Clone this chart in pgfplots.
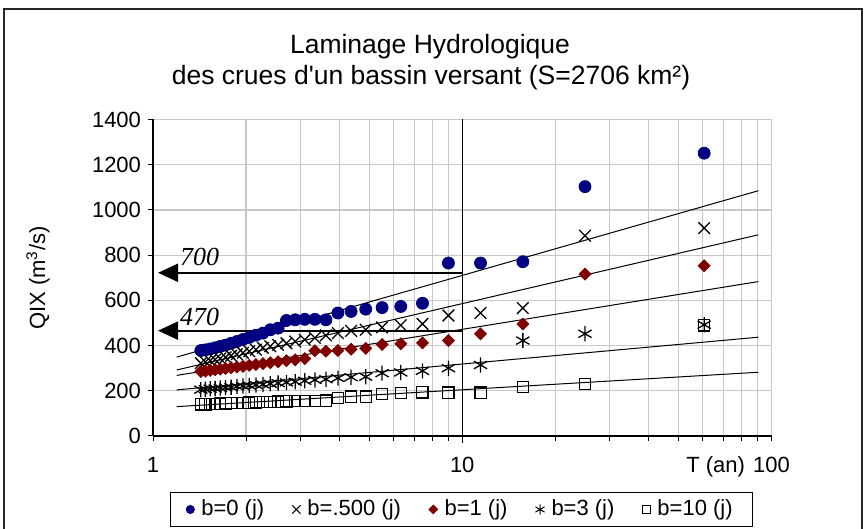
\documentclass[border=0pt]{standalone}
\usepackage{pgfplots}
\pgfplotsset{compat=1.18}
\usepackage{pgfplotstable}
\usepackage{fontspec}
\setmainfont{Liberation Sans}[Ligatures=TeXOff]
\newfontfamily\serifit{Liberation Serif}
\usetikzlibrary{arrows.meta}
\definecolor{navyb}{RGB}{0,0,128}
\definecolor{darkred}{RGB}{128,0,0}
\definecolor{gridc}{RGB}{200,200,200}

\pgfplotstableread{
T b0 b05 b1 b3 b10
60.571 1251 920 753 492 489
24.941 1103 886 716 452 229
15.704 771 566 495 422 216
11.459 765 544 452 314 192
9.021 765 533 422 300 192
7.439 587 496 412 288 193
6.328 573 490 408 281 189
5.506 568 480 405 278 185
4.874 561 470 388 262 174
4.371 551 465 384 260 174
3.963 544 455 378 256 167
3.624 514 445 375 251 157
3.339 516 434 377 248 156
3.095 516 426 342 244 155
2.884 514 418 337 240 154
2.701 511 410 333 237 153
2.539 477 403 328 234 152
2.395 470 397 324 231 151
2.267 455 390 320 228 150
2.152 446 382 316 226 149
2.048 436 375 312 223 148
1.954 427 368 308 221 147
1.868 418 362 305 219 146
1.789 410 355 302 216 145
1.717 402 348 299 214 144
1.650 396 343 296 212 143
1.588 390 338 293 210 142
1.531 385 333 290 209 141
1.477 381 328 287 207 140
1.428 378 322 285 205 140
}\data

\begin{document}
\begin{tikzpicture}[x=0.5pt,y=0.5pt]
\useasboundingbox (0,0) rectangle (867,529);
\draw[line width=0.8pt, black!85] (4,-20) rectangle (862,520);
% title
\node[anchor=base, font=\fontsize{13.25}{16}\selectfont] at (430,475) {Laminage Hydrologique};
\node[anchor=base, font=\fontsize{13.25}{16}\selectfont] at (431,444) {des crues d'un bassin versant (S=2706 km²)};
\begin{axis}[
  at={(76.5pt,46.5pt)}, anchor=south west,
  width=309.25pt, height=158.25pt, scale only axis,
  xmode=log, xmin=1, xmax=100, ymin=0, ymax=1400,
  xtick={1,10,100}, xticklabels={1,10,100},
  ytick={0,200,...,1400},
  axis x line*=bottom, axis y line*=left,
  axis line style={black, line width=0.7pt},
  xmajorgrids, xminorgrids, ymajorgrids,
  grid style={gridc, line width=0.6pt},
  minor grid style={gridc, line width=0.6pt},
  tick align=outside,
  major tick length=2.5pt, minor tick length=2.5pt,
  tick style={black, line width=0.5pt},
  /pgf/number format/1000 sep={},
  /pgf/number format/assume math mode=true,
  ticklabel style={font=\fontsize{11}{13}\selectfont},
  xticklabel style={yshift=-4.5pt},
  clip=false,
  legend columns=5,
  legend cell align=left,
  legend style={at={(0.4988,-0.2322)}, anchor=center, draw=black, line width=0.5pt,
    inner xsep=8pt, inner ysep=2pt, font=\fontsize{11}{13}\selectfont,
    /tikz/every even column/.append style={column sep=12pt},
    /tikz/every odd column/.append style={column sep=1.5pt}},
  legend image code/.code={\draw[#1] plot coordinates {(0pt,0pt)};},
]
\addplot[only marks, mark=*, mark size=3pt, color=navyb, fill=navyb,
  legend image post style={mark size=2pt}] table[x=T,y=b0] {\data};
\addlegendentry{b=0 (j)}
\addplot[only marks, mark=x, mark size=4.1pt, black, line width=0.65pt,
  legend image post style={mark size=2.9pt, line width=0.5pt}] table[x=T,y=b05] {\data};
\addlegendentry{b=.500 (j)}
\addplot[only marks, mark=square*, mark size=2.1pt, mark options={rotate=45}, color=darkred, fill=darkred,
  legend image post style={mark size=1.5pt}] table[x=T,y=b1] {\data};
\addlegendentry{b=1 (j)}
\addplot[only marks, mark=asterisk, mark size=3.8pt, black, line width=0.65pt,
  legend image post style={mark size=2.6pt, line width=0.5pt}] table[x=T,y=b3] {\data};
\addlegendentry{b=3 (j)}
\addplot[only marks, mark=square, mark size=2.8pt, black, line width=0.6pt,
  legend image post style={mark size=2pt, line width=0.5pt}] table[x=T,y=b10] {\data};
\addlegendentry{b=10 (j)}
% trend lines
\addplot[black, line width=0.5pt, forget plot] coordinates {(1.193,349) (90.7,1085)};
\addplot[black, line width=0.5pt, forget plot] coordinates {(1.193,292) (90.7,890)};
\addplot[black, line width=0.5pt, forget plot] coordinates {(1.193,268) (90.7,683)};
\addplot[black, line width=0.5pt, forget plot] coordinates {(1.193,204) (90.7,437)};
\addplot[black, line width=0.5pt, forget plot] coordinates {(1.193,130) (90.7,282)};
% vertical line at T=10 and arrows
\draw[black, line width=0.6pt] (axis cs:10,-30) -- (axis cs:10,1400);
\draw[black, line width=1pt, -{Triangle[length=10pt,width=9pt]}] (axis cs:10,722) -- (axis cs:1.038,722);
\draw[black, line width=1pt, -{Triangle[length=10pt,width=9pt]}] (axis cs:10,466) -- (axis cs:1.038,466);
\end{axis}
\node[anchor=base west, font=\serifit\itshape\fontsize{13}{15}\selectfont] at (173,263) {700};
\node[anchor=base west, font=\serifit\itshape\fontsize{13}{15}\selectfont] at (173,203) {470};
\node[rotate=90, anchor=center, font=\fontsize{11}{13}\selectfont] at (38,251) {QIX (m\textsuperscript{3}/s)};
\node[anchor=base east, font=\fontsize{11}{13}\selectfont] at (752,56) {T (an)};
\end{tikzpicture}
\end{document}
